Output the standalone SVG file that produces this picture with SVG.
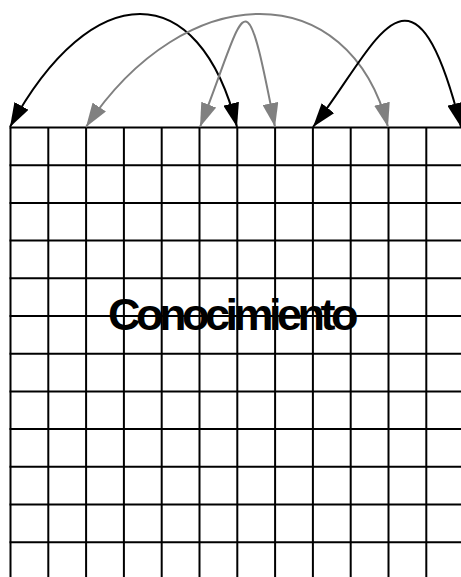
<svg xmlns="http://www.w3.org/2000/svg" width="461" height="577" viewBox="0 0 461 577">
<style>
.grid line{stroke:#000;stroke-width:2}
.k{fill:none;stroke:#000;stroke-width:2}
.g{fill:none;stroke:#808080;stroke-width:2}
</style>
<defs>
<marker id="ak" markerUnits="userSpaceOnUse" markerWidth="24" markerHeight="16" viewBox="0 0 24 16" refX="24" refY="8" orient="auto-start-reverse"><path d="M0,0 L24,8 L0,16 z" fill="#000"/></marker>
<marker id="ag" markerUnits="userSpaceOnUse" markerWidth="24" markerHeight="16" viewBox="0 0 24 16" refX="24" refY="8" orient="auto-start-reverse"><path d="M0,0 L24,8 L0,16 z" fill="#808080"/></marker>
</defs>
<rect width="461" height="577" fill="#fff"/>
<g id="grid" class="grid">
<line x1="10.5" y1="127.5" x2="10.5" y2="577"/>
<line x1="48.3" y1="127.5" x2="48.3" y2="577"/>
<line x1="86.1" y1="127.5" x2="86.1" y2="577"/>
<line x1="123.9" y1="127.5" x2="123.9" y2="577"/>
<line x1="161.7" y1="127.5" x2="161.7" y2="577"/>
<line x1="199.5" y1="127.5" x2="199.5" y2="577"/>
<line x1="237.3" y1="127.5" x2="237.3" y2="577"/>
<line x1="275.1" y1="127.5" x2="275.1" y2="577"/>
<line x1="312.9" y1="127.5" x2="312.9" y2="577"/>
<line x1="350.7" y1="127.5" x2="350.7" y2="577"/>
<line x1="388.5" y1="127.5" x2="388.5" y2="577"/>
<line x1="426.3" y1="127.5" x2="426.3" y2="577"/>
<line x1="9.5" y1="127.5" x2="461" y2="127.5"/>
<line x1="9.5" y1="165.2" x2="461" y2="165.2"/>
<line x1="9.5" y1="202.9" x2="461" y2="202.9"/>
<line x1="9.5" y1="240.6" x2="461" y2="240.6"/>
<line x1="9.5" y1="278.3" x2="461" y2="278.3"/>
<line x1="9.5" y1="316" x2="461" y2="316"/>
<line x1="9.5" y1="353.7" x2="461" y2="353.7"/>
<line x1="9.5" y1="391.4" x2="461" y2="391.4"/>
<line x1="9.5" y1="429.1" x2="461" y2="429.1"/>
<line x1="9.5" y1="466.8" x2="461" y2="466.8"/>
<line x1="9.5" y1="504.5" x2="461" y2="504.5"/>
<line x1="9.5" y1="542.2" x2="461" y2="542.2"/>
</g>
<g id="label">
<text x="108" y="330" font-family="'Liberation Sans', Arial, sans-serif" font-weight="bold" font-size="45" letter-spacing="-4.5" fill="#000">Conocimiento</text>
</g>
<g id="connectors">
<path class="k" d="M10,127 C92,-23.7 199,-23.7 237,127" marker-start="url(#ak)" marker-end="url(#ak)"/>
<path class="g" d="M86,127 C186,-23.7 349,-23.7 388,127" marker-start="url(#ag)" marker-end="url(#ag)"/>
<path class="g" d="M200,127 C247,7 244,-33 275,127" marker-start="url(#ag)" marker-end="url(#ag)"/>
<path class="k" d="M313,127 C375,49 412,-67 461,127" marker-start="url(#ak)" marker-end="url(#ak)"/>
</g>
</svg>
